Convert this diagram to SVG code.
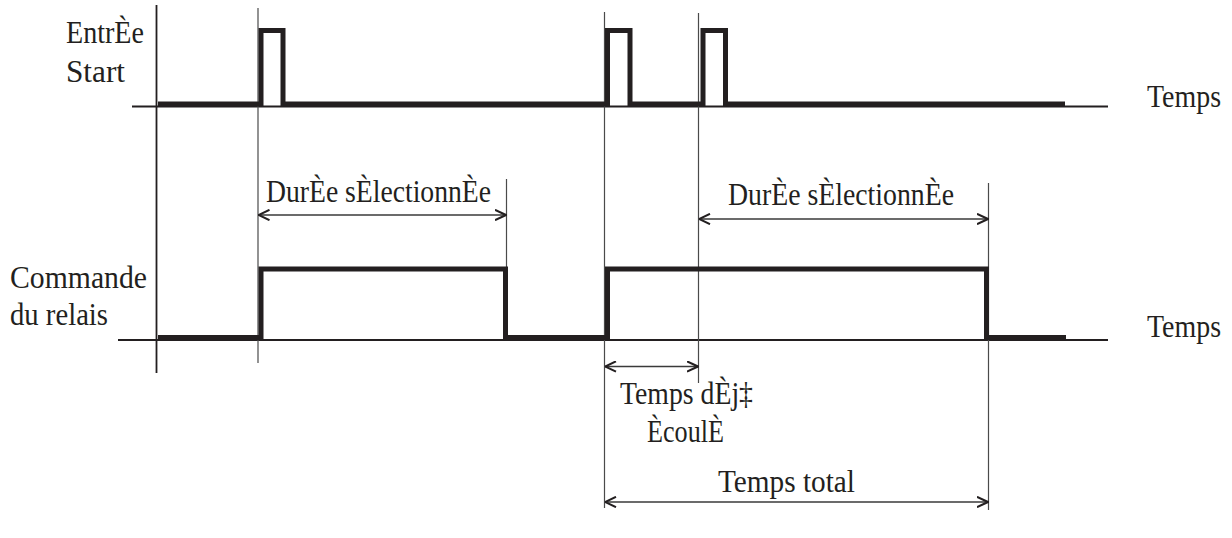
<svg xmlns="http://www.w3.org/2000/svg" width="1232" height="538" viewBox="0 0 1232 538">
<style>
.lbl{font-family:"Liberation Serif","Times New Roman",serif;font-size:32px;fill:#231f20}
.axis{stroke:#231f20;stroke-width:1.8;fill:none}
.ref{stroke:#4a4a4a;stroke-width:1.2;fill:none}
.sig{stroke:#231f20;stroke-width:5;fill:none;stroke-linejoin:miter}
.dim{stroke:#3a3a3a;stroke-width:1.4;fill:none;marker-start:url(#ah);marker-end:url(#ah)}
</style>
<defs>
<marker id="ah" viewBox="0 0 12 12" refX="12" refY="6" markerWidth="12" markerHeight="12" markerUnits="userSpaceOnUse" orient="auto-start-reverse">
<path d="M0.5,0.8 L11.5,6 L0.5,11.2" fill="none" stroke="#231f20" stroke-width="2"/>
</marker>
</defs>
<rect width="1232" height="538" fill="#ffffff"/>
<g id="axes">
<line class="axis" x1="156.5" y1="5" x2="156.5" y2="373"/>
<line class="axis" x1="132" y1="106.5" x2="1108" y2="106.5"/>
<line class="axis" x1="118" y1="340" x2="1108" y2="340"/>
</g>
<g id="ref-lines">
<line class="ref" x1="258" y1="8" x2="258" y2="363"/>
<line class="ref" x1="506.5" y1="179" x2="506.5" y2="268"/>
<line class="ref" x1="604.5" y1="12" x2="604.5" y2="508"/>
<line class="ref" x1="698.5" y1="13" x2="698.5" y2="383"/>
<line class="ref" x1="988.5" y1="183" x2="988.5" y2="510"/>
</g>
<g id="signal-start">
<polyline class="sig" points="158,104 261,104 261,30.5 283,30.5 283,104 607.5,104 607.5,30.5 630,30.5 630,104 703,104 703,30.5 725.5,30.5 725.5,104 1065,104"/>
</g>
<g id="signal-relais">
<polyline class="sig" points="158,337.5 261,337.5 261,269 505.5,269 505.5,337.5 607.5,337.5 607.5,269 986.5,269 986.5,337.5 1066,337.5"/>
</g>
<g id="labels">
<text class="lbl" x="66" y="43" textLength="78" lengthAdjust="spacingAndGlyphs">EntrÈe</text>
<text class="lbl" x="66" y="82" textLength="59" lengthAdjust="spacingAndGlyphs">Start</text>
<text class="lbl" x="10" y="288" textLength="137" lengthAdjust="spacingAndGlyphs">Commande</text>
<text class="lbl" x="10" y="325" textLength="98" lengthAdjust="spacingAndGlyphs">du relais</text>
<text class="lbl" x="1147" y="107" textLength="74" lengthAdjust="spacingAndGlyphs">Temps</text>
<text class="lbl" x="1147" y="337" textLength="74" lengthAdjust="spacingAndGlyphs">Temps</text>
</g>
<g id="connectors">
<g id="dim-duree-1">
<line class="dim" x1="258" y1="215" x2="506.5" y2="215"/>
<text class="lbl" x="266" y="202" textLength="225" lengthAdjust="spacingAndGlyphs">DurÈe sÈlectionnÈe</text>
</g>
<g id="dim-duree-2">
<line class="dim" x1="698.5" y1="219" x2="988.5" y2="219"/>
<text class="lbl" x="728" y="205" textLength="226" lengthAdjust="spacingAndGlyphs">DurÈe sÈlectionnÈe</text>
</g>
<g id="dim-ecoule">
<line class="dim" x1="604.5" y1="366.5" x2="698.5" y2="366.5"/>
<text class="lbl" x="620" y="404" textLength="133" lengthAdjust="spacingAndGlyphs">Temps dÈj‡</text>
<text class="lbl" x="647" y="442" textLength="77" lengthAdjust="spacingAndGlyphs">ÈcoulÈ</text>
</g>
<g id="dim-total">
<line class="dim" x1="604.5" y1="502" x2="988.5" y2="502"/>
<text class="lbl" x="718" y="492" textLength="137" lengthAdjust="spacingAndGlyphs">Temps total</text>
</g>
</g>
</svg>
